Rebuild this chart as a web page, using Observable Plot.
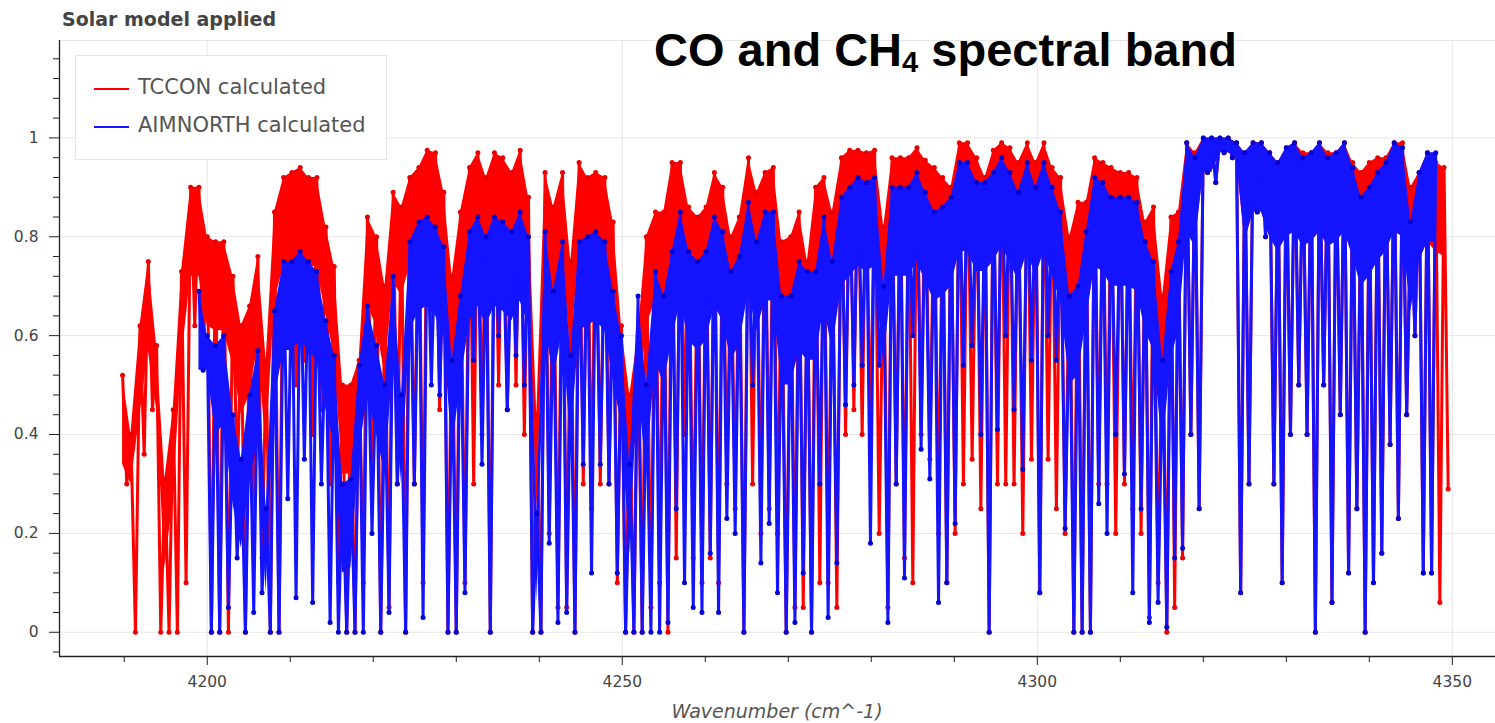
<!DOCTYPE html>
<html><head><meta charset="utf-8">
<script src="https://cdn.jsdelivr.net/npm/d3@7"></script>
<script src="https://cdn.jsdelivr.net/npm/@observablehq/plot@0.6"></script>
<style>
body{margin:0;background:#fff;}
#wrap{position:relative;width:1495px;height:723px;overflow:hidden;}
#wrap svg{position:absolute;left:0;top:0;}
.ov{position:absolute;white-space:nowrap;}
#title{left:62px;top:10px;font:bold 19px/19px "DejaVu Sans";color:#444;}
#big{left:654px;top:26px;font:bold 47px/47px "Liberation Sans";color:#000;}
#big sub{font-size:0.62em;line-height:0;vertical-align:-0.22em;}
#xlab{left:0;width:1495px;padding-left:59px;box-sizing:border-box;text-align:center;top:702px;font:italic 19px/19px "DejaVu Sans";color:#555;}
#legend{left:75px;top:55px;width:312px;height:105px;border:1px solid #e6e6e6;background:rgba(255,255,255,0.96);box-sizing:border-box;}
.lline{position:absolute;left:18px;width:35px;height:2px;}
.ltext{position:absolute;left:62px;font:21px/21px "DejaVu Sans";color:#555;white-space:nowrap;}
</style></head>
<body><div id="wrap"></div>
<script>
// column wavenumbers (cm^-1) at which top / dip values were read
const columnWn = [4189.8,4190.8,4191.9,4192.9,4193.9,4194.9,4195.9,4196.9,4198.0,4199.0,
4200.0,4201.0,4202.0,4203.1,4204.1,4205.1,4206.1,4207.1,4208.1,4209.2,
4210.2,4211.2,4212.2,4213.2,4214.3,4215.3,4216.3,4217.3,4218.3,4219.3,
4220.4,4221.4,4222.4,4223.4,4224.4,4225.5,4226.5,4227.5,4228.5,4229.5,
4230.5,4231.6,4232.6,4233.6,4234.6,4235.6,4236.7,4237.7,4238.7,4239.7,
4240.7,4241.7,4242.8,4243.8,4244.8,4245.8,4246.8,4247.9,4248.9,4249.9,
4250.9,4251.9,4252.9,4254.0,4255.0,4256.0,4257.0,4258.0,4259.1,4260.1,
4261.1,4262.1,4263.1,4264.1,4265.2,4266.2,4267.2,4268.2,4269.2,4270.3,
4271.3,4272.3,4273.3,4274.3,4275.3,4276.4,4277.4,4278.4,4279.4,4280.4,
4281.5,4282.5,4283.5,4284.5,4285.5,4286.5,4287.6,4288.6,4289.6,4290.6,
4291.6,4292.7,4293.7,4294.7,4295.7,4296.7,4297.7,4298.8,4299.8,4300.8,
4301.8,4302.8,4303.9,4304.9,4305.9,4306.9,4307.9,4308.9,4310.0,4311.0,
4312.0,4313.0,4314.0,4315.1,4316.1,
4317,4318,4319,4320,4321,4322,4323,4324,4325,4326,
4327,4328,4329,4330,4331,4332,4333,4334,4335,4336,
4337,4338,4339,4340,4341,4342,4343,4344,4345,4346,
4347,4348,4349];

// TCCON calculated: local maxima and minima per column
const tcconTop = [.52,.40,.62,.75,.58,.31,.45,.73,.90,.90,
.80,.79,.79,.72,.62,.66,.76,.55,.85,.92,
.93,.94,.92,.92,.82,.74,.50,.50,.55,.84,
.80,.70,.89,.86,.92,.94,.975,.97,.89,.72,
.85,.94,.97,.92,.97,.96,.93,.975,.88,.44,
.93,.86,.93,.75,.95,.92,.93,.92,.83,.62,
.48,.60,.80,.85,.85,.95,.95,.86,.84,.86,
.93,.90,.80,.84,.96,.89,.93,.94,.79,.80,
.85,.75,.90,.92,.85,.96,.975,.975,.97,.975,
.82,.96,.96,.96,.98,.955,.94,.92,.90,.99,
.99,.96,.92,.975,.99,.98,.95,.99,.95,.99,
.94,.92,.80,.87,.87,.96,.95,.94,.93,.93,
.92,.83,.86,.68,.84,
.85,.99,.97,1.0,1.0,1.0,1.0,.99,.97,.99,
.99,.97,.95,.98,.99,.97,.97,.99,.97,.97,
.99,.95,.93,.95,.96,.96,.99,.99,.90,.93,
.97,.95,.94];
const tcconDip = [.30,0,.36,.45,0,0,0,.10,.62,.55,
0,0,0,.30,0,.20,.15,0,0,.60,
.50,.55,.40,.45,.30,.10,0,0,.10,.35,
0,.05,.30,0,.30,.10,.60,.45,0,0,
.10,.30,.40,0,.50,.45,.50,.40,0,0,
.20,.05,.05,0,.30,.25,.30,.30,.10,0,
0,0,.05,.10,0,.15,.40,.15,.10,.15,
.10,.30,.25,0,.30,.20,.25,.20,0,.05,
.05,0,.10,.10,.05,.40,.45,.40,.35,.20,
.05,.30,.15,.10,.40,.35,.20,.10,.20,.30,
.35,.25,0,.30,.30,.30,.20,.35,.08,.35,
.25,.20,0,0,0,.30,.30,.20,.30,.25,
.20,.03,.10,0,.05,
.15,.40,.25,.93,.91,.97,.96,.08,.30,.85,
.80,.30,.10,.40,.50,.40,0,.50,.06,.44,
.12,.25,0,.10,.16,.38,.23,.44,.60,.12,
.12,.06,.29];

// AIMNORTH calculated: local maxima and minima per column
const aimTop = [null,null,null,null,null,null,null,null,null,.69,
.60,.58,.60,.44,.35,.48,.57,.25,.65,.75,
.75,.77,.75,.73,.63,.56,.30,.31,.54,.66,
.58,.50,.72,.48,.79,.83,.84,.82,.78,.55,
.68,.81,.84,.80,.84,.83,.81,.85,.80,.24,
.81,.69,.79,.56,.79,.80,.81,.79,.69,.60,
.34,.68,.50,.73,.68,.77,.85,.77,.75,.77,
.84,.81,.73,.76,.87,.79,.85,.85,.68,.68,
.75,.73,.73,.84,.75,.88,.90,.92,.91,.92,
.70,.90,.90,.90,.93,.89,.85,.86,.88,.95,
.95,.91,.91,.93,.96,.93,.89,.95,.90,.95,
.90,.85,.68,.70,.81,.92,.91,.88,.88,.88,
.87,.79,.75,.55,.73,
.79,.99,.96,1.0,1.0,1.0,1.0,.99,.97,.99,
.99,.97,.95,.98,.99,.96,.97,.99,.96,.97,
.99,.94,.88,.90,.93,.95,.99,.98,.83,.93,
.97,.97,null];
const aimDip = [null,null,null,null,null,null,null,null,null,.53,
0,0,.05,.15,0,.04,.08,0,0,.27,
.07,.35,.06,.30,.02,0,0,0,0,.20,
0,.04,.30,0,.30,.03,.50,.48,0,0,
.08,.55,.34,0,.60,.45,.56,.50,0,0,
.18,.02,.04,0,.34,.12,.34,.30,.12,0,
0,0,0,0,.02,.25,.10,.05,.04,.16,
.04,.23,.20,0,.50,.14,.22,.08,0,.02,
.12,0,.30,.03,.14,.46,.50,.54,.18,.54,
.02,.30,.11,.60,.37,.31,.06,.10,.22,.54,
.58,.40,0,.41,.60,.45,.33,.55,.08,.60,
.55,.21,0,0,0,.26,.20,.40,.32,.08,
.25,.02,.06,.01,.15,
.17,.40,.25,.93,.91,.97,.96,.08,.30,.85,
.80,.30,.10,.40,.50,.40,0,.50,.06,.44,
.12,.25,0,.10,.16,.38,.23,.44,.60,.12,
.12,null,null];

const xMajor = [4200, 4250, 4300, 4350];
const xMinor = [4190, 4210, 4220, 4230, 4240, 4260, 4270, 4280, 4290, 4310, 4320, 4330, 4340];
const yMajor = [0, 0.2, 0.4, 0.6, 0.8, 1];
const yMinor = [-0.04, 0.04, 0.08, 0.12, 0.16, 0.24, 0.28, 0.32, 0.36, 0.44, 0.48, 0.52, 0.56,
  0.64, 0.68, 0.72, 0.76, 0.84, 0.88, 0.92, 0.96, 1.04, 1.08, 1.12, 1.16];
const seriesNames = ["TCCON calculated", "AIMNORTH calculated"];
const seriesColors = ["#ff0000", "#1414ff"];
const dotColors = ["#e80000", "#0000d0"];
const saturatedDepth = 0.18; // depth below the top where the dense point cloud reads as solid ink

// zig-zag vertices: top at column start, dip half-way to the next column
function vertices(top, dip) {
  const out = [];
  for (let i = 0; i < columnWn.length; i++) {
    const next = i + 1 < columnWn.length ? columnWn[i + 1] : columnWn[i] + 1;
    if (top[i] != null) out.push({wn: columnWn[i], t: top[i]});
    if (dip[i] != null) out.push({wn: (columnWn[i] + next) / 2, t: dip[i]});
  }
  return out;
}
// saturated part of each column: from the top down to the shallower neighbouring dip
function band(top, dip) {
  const out = [];
  for (let i = 0; i < columnWn.length; i++) {
    if (top[i] == null) continue;
    const a = i > 0 && dip[i - 1] != null ? dip[i - 1] : dip[i];
    const b = dip[i] != null ? dip[i] : a;
    const floor = Math.max(a, b, top[i] - saturatedDepth);
    out.push({wn: columnWn[i], top: top[i], floor: Math.min(top[i], floor)});
  }
  return out;
}
const tccon = vertices(tcconTop, tcconDip);
const aim = vertices(aimTop, aimDip);
const tcconBand = band(tcconTop, tcconDip);
const aimBand = band(aimTop, aimDip);

const xDom = [4182.2, 4355.2];
const yDom = [-0.049, 1.197];

const chart = Plot.plot({
  width: 1495, height: 723,
  marginLeft: 59, marginRight: 0, marginTop: 40, marginBottom: 67,
  x: {domain: xDom},
  y: {domain: yDom},
  style: {fontFamily: "DejaVu Sans", fontSize: "15.5px", color: "#444", background: "white"},
  marks: [
    Plot.gridX(xMajor, {stroke: "#e6e6e6", strokeOpacity: 1}),
    Plot.gridY(yMajor, {stroke: "#e6e6e6", strokeOpacity: 1}),
    Plot.frame({stroke: "#e6e6e6"}),
    Plot.areaY(tcconBand, {x: "wn", y1: "floor", y2: "top", fill: seriesColors[0]}),
    Plot.line(tccon, {x: "wn", y: "t", stroke: seriesColors[0], strokeWidth: 3, strokeLinejoin: "round"}),
    Plot.dot(tccon, {x: "wn", y: "t", r: 2.5, fill: dotColors[0], stroke: "none"}),
    Plot.areaY(aimBand, {x: "wn", y1: "floor", y2: "top", fill: seriesColors[1]}),
    Plot.line(aim, {x: "wn", y: "t", stroke: seriesColors[1], strokeWidth: 3, strokeLinejoin: "round"}),
    Plot.dot(aim, {x: "wn", y: "t", r: 2.5, fill: dotColors[1], stroke: "none"}),
    Plot.ruleX([xDom[0]], {stroke: "#222", strokeWidth: 1.3}),
    Plot.ruleY([yDom[0]], {stroke: "#222", strokeWidth: 1.3}),
    Plot.axisY(yMajor, {tickSize: 10, tickPadding: 11, tickFormat: d3.format("~g"), stroke: "#222", fill: "#444", label: null}),
    Plot.axisY(yMinor, {tickSize: 6, tickFormat: () => "", stroke: "#222", label: null}),
    Plot.axisX(xMajor, {tickSize: 9, tickPadding: 10, tickFormat: d => String(d), stroke: "#222", fill: "#444", label: null}),
    Plot.axisX(xMinor, {tickSize: 6, tickFormat: () => "", stroke: "#222", label: null})
  ]
});

const wrap = document.getElementById("wrap");
wrap.appendChild(chart);

function addDiv(id, html) {
  const d = document.createElement("div");
  d.id = id; d.className = "ov"; d.innerHTML = html;
  wrap.appendChild(d);
  return d;
}
addDiv("title", "Solar model applied");
addDiv("big", "CO and CH<sub>4</sub> spectral band");
addDiv("xlab", "Wavenumber (cm^-1)");
const legend = addDiv("legend", "");
seriesNames.forEach((name, i) => {
  const ln = document.createElement("div");
  ln.className = "lline";
  ln.style.top = (i === 0 ? 32 : 70) + "px";
  ln.style.background = seriesColors[i];
  legend.appendChild(ln);
  const tx = document.createElement("div");
  tx.className = "ltext";
  tx.style.top = (i === 0 ? 21 : 59) + "px";
  tx.textContent = name;
  legend.appendChild(tx);
});
</script>
</body></html>
